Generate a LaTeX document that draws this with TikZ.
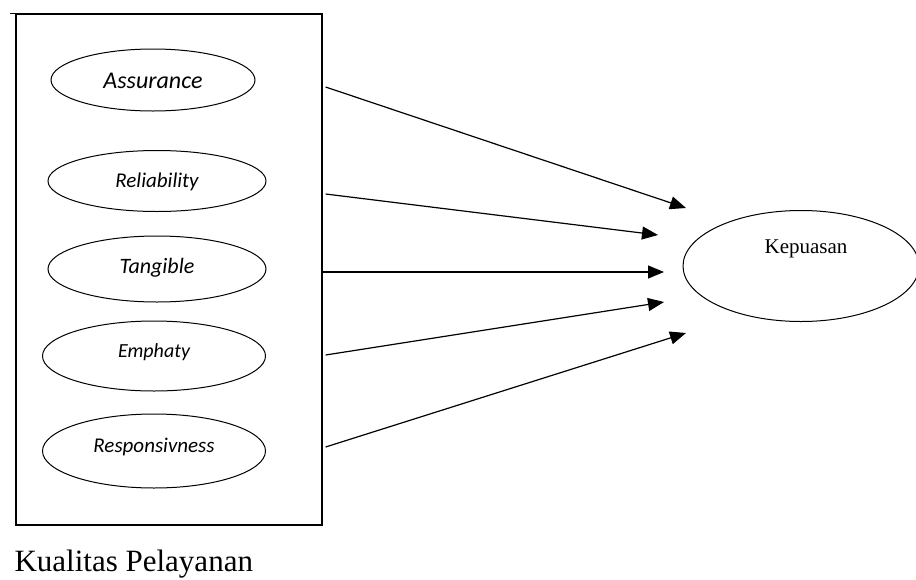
\documentclass[tikz,border=0pt]{standalone}
\usepackage{fontspec}
\setmainfont{Liberation Serif}
\newfontfamily\dimfont{Carlito}
\usetikzlibrary{shapes.geometric,arrows.meta}

\begin{document}
\begin{tikzpicture}[
    x=1pt, y=-1pt,
    group box/.style={
        draw=black,
        line width=1.2pt,
        minimum width=306pt,
        minimum height=511pt,
        inner sep=0pt
    },
    dim ellipse/.style={
        ellipse,
        draw=black,
        line width=1pt,
        inner sep=0pt,
        font=\dimfont\itshape
    },
    result ellipse/.style={
        ellipse,
        draw=black,
        line width=1pt,
        minimum width=236pt,
        minimum height=111pt,
        inner sep=0pt
    },
    effect arrow/.style={
        line width=1.2pt,
        -{Triangle[length=16pt,width=13pt]}
    }
]
\useasboundingbox (0,0) rectangle (916,579);

% Quality dimensions group
\node[group box] (box) at (169,269.5) {};
\draw[line width=1.2pt] (box.north west) -- ++(-5,0);

% Dimension ellipses
\node[dim ellipse, minimum width=204pt, minimum height=62pt] (asr) at (153,80) {};
\node[font=\dimfont\itshape\fontsize{24}{24}\selectfont] at (153,81) {Assurance};

\node[dim ellipse, minimum width=218pt, minimum height=61pt] (rel) at (157,181) {};
\node[font=\dimfont\itshape\fontsize{21}{21}\selectfont] at (157,182) {Reliability};

\node[dim ellipse, minimum width=218pt, minimum height=66pt] (tan) at (157,269) {};
\node[font=\dimfont\itshape\fontsize{22}{22}\selectfont] at (157,268) {Tangible};

\node[dim ellipse, minimum width=223pt, minimum height=70pt] (emp) at (154,356) {};
\node[font=\dimfont\itshape\fontsize{20}{20}\selectfont] at (154,352) {Emphaty};

\node[dim ellipse, minimum width=223pt, minimum height=74pt] (res) at (154,451) {};
\node[font=\dimfont\itshape\fontsize{21}{21}\selectfont] at (154,447) {Responsivness};

% Satisfaction
\node[result ellipse] (kep) at (801,266) {};
\node[font=\fontsize{21}{21}\selectfont] (keplabel) at (806,249) {Kepuasan};

% Group caption
\node[font=\fontsize{31}{31}\selectfont, anchor=base west] (caption) at (11,571) {Kualitas Pelayanan};

% Arrow ends
\coordinate (s1) at (box.east |- 0,87);
\coordinate (s2) at (box.east |- 0,194);
\coordinate (s3) at (box.east |- 0,272);
\coordinate (s4) at (box.east |- 0,355);
\coordinate (s5) at (box.east |- 0,447);
\coordinate (t1) at (686,208);
\coordinate (t2) at (658,235);
\coordinate (t3) at (664,272);
\coordinate (t4) at (664,302);
\coordinate (t5) at (686,333);

% Effects
\draw[effect arrow] ([xshift=3pt]s1) -- (t1);
\draw[effect arrow] ([xshift=3pt]s2) -- (t2);
\draw[effect arrow] (s3) -- (t3);
\draw[effect arrow] ([xshift=3pt]s4) -- (t4);
\draw[effect arrow] ([xshift=3pt]s5) -- (t5);

\end{tikzpicture}
\end{document}
